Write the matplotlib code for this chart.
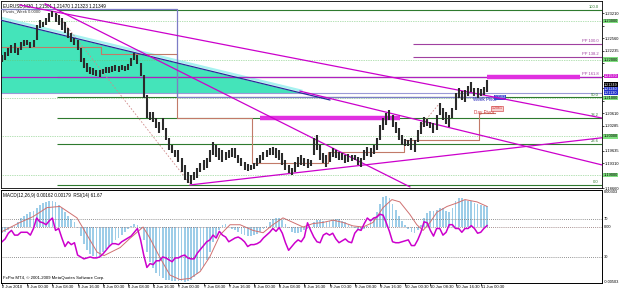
import numpy as np
import matplotlib
matplotlib.use('Agg')
import matplotlib.pyplot as plt
from matplotlib.transforms import blended_transform_factory

plt.rcParams['font.family'] = ['Liberation Sans', 'DejaVu Sans']

# hourly bars (2 Jun 16:30 .. 11 Jun 02:30)
high = [1.2212, 1.2220, 1.2230, 1.2238, 1.2243, 1.2230, 1.2246, 1.2251, 1.2251, 1.2246,
        1.2251, 1.2290, 1.2303, 1.2298, 1.2308, 1.2321, 1.2326, 1.2321, 1.2316, 1.2308,
        1.2298, 1.2282, 1.2269, 1.2256, 1.2251, 1.2230, 1.2204, 1.2191, 1.2181, 1.2178,
        1.2173, 1.2173, 1.2176, 1.2181, 1.2181, 1.2183, 1.2186, 1.2183, 1.2186, 1.2183,
        1.2188, 1.2204, 1.2217, 1.2212, 1.2191, 1.2160, 1.2108, 1.2064, 1.2064, 1.2048,
        1.2038, 1.2048, 1.2022, 1.1996, 1.1978, 1.1965, 1.1965, 1.1944, 1.1926, 1.1908,
        1.1900, 1.1908, 1.1918, 1.1931, 1.1939, 1.1944, 1.1965, 1.1986, 1.1978, 1.1970,
        1.1965, 1.1960, 1.1965, 1.1970, 1.1970, 1.1952, 1.1944, 1.1934, 1.1928, 1.1926,
        1.1931, 1.1944, 1.1952, 1.1960, 1.1965, 1.1970, 1.1973, 1.1970, 1.1965, 1.1957,
        1.1939, 1.1926, 1.1918, 1.1934, 1.1947, 1.1952, 1.1944, 1.1942, 1.1939, 1.1996,
        1.2004, 1.1978, 1.1957, 1.1952, 1.1960, 1.1970, 1.1965, 1.1960, 1.1957, 1.1952,
        1.1955, 1.1952, 1.1952, 1.1947, 1.1944, 1.1965, 1.1973, 1.1970, 1.1978, 1.1996,
        1.2030, 1.2048, 1.2061, 1.2069, 1.2056, 1.2038, 1.2022, 1.2004, 1.1994, 1.1991,
        1.1996, 1.1991, 1.2017, 1.2038, 1.2051, 1.2046, 1.2038, 1.2035, 1.2056, 1.2087,
        1.2074, 1.2064, 1.2056, 1.2074, 1.2113, 1.2126, 1.2118, 1.2121, 1.2131, 1.2142,
        1.2126, 1.2126, 1.2124, 1.2129, 1.2147]
low = [1.2194, 1.2199, 1.2209, 1.2217, 1.2217, 1.2212, 1.2225, 1.2235, 1.2238, 1.2230,
       1.2233, 1.2251, 1.2282, 1.2285, 1.2290, 1.2298, 1.2311, 1.2298, 1.2290, 1.2277,
       1.2269, 1.2256, 1.2246, 1.2238, 1.2225, 1.2194, 1.2178, 1.2168, 1.2163, 1.2160,
       1.2157, 1.2155, 1.2163, 1.2165, 1.2165, 1.2168, 1.2171, 1.2168, 1.2173, 1.2171,
       1.2173, 1.2183, 1.2199, 1.2188, 1.2157, 1.2100, 1.2048, 1.2043, 1.2038, 1.2022,
       1.2009, 1.2017, 1.1991, 1.1965, 1.1957, 1.1947, 1.1934, 1.1908, 1.1887, 1.1879,
       1.1877, 1.1887, 1.1892, 1.1908, 1.1913, 1.1918, 1.1934, 1.1952, 1.1947, 1.1939,
       1.1934, 1.1939, 1.1944, 1.1947, 1.1944, 1.1931, 1.1923, 1.1913, 1.1910, 1.1913,
       1.1916, 1.1923, 1.1931, 1.1939, 1.1947, 1.1952, 1.1952, 1.1944, 1.1939, 1.1926,
       1.1913, 1.1905, 1.1900, 1.1908, 1.1921, 1.1926, 1.1923, 1.1918, 1.1923, 1.1952,
       1.1965, 1.1939, 1.1931, 1.1921, 1.1934, 1.1947, 1.1944, 1.1939, 1.1939, 1.1931,
       1.1934, 1.1936, 1.1939, 1.1926, 1.1921, 1.1939, 1.1949, 1.1947, 1.1955, 1.1965,
       1.1991, 1.2017, 1.2030, 1.2043, 1.2025, 1.2009, 1.1991, 1.1978, 1.1975, 1.1975,
       1.1965, 1.1960, 1.1986, 1.2007, 1.2025, 1.2027, 1.2022, 1.2009, 1.2017, 1.2056,
       1.2043, 1.2033, 1.2025, 1.2048, 1.2069, 1.2100, 1.2095, 1.2090, 1.2105, 1.2116,
       1.2105, 1.2100, 1.2105, 1.2108, 1.2116]

macd = [-0.0005, -0.0004, -0.0003, -0.0001, 0.0001, 0.0004, 0.0008, 0.0010, 0.0011, 0.0013,
        0.0014, 0.0017, 0.0019, 0.0021, 0.0022, 0.0023, 0.0023, 0.0022, 0.0019, 0.0017,
        0.0013, 0.0010, 0.0007, 0.0004, -0.0001, -0.0008, -0.0015, -0.0020, -0.0024, -0.0025,
        -0.0026, -0.0025, -0.0022, -0.0019, -0.0017, -0.0014, -0.0011, -0.0010, -0.0007, -0.0004,
        -0.0002, 0.0001, 0.0003, 0.0002, -0.0002, -0.0011, -0.0022, -0.0031, -0.0036, -0.0040,
        -0.0043, -0.0045, -0.0046, -0.0046, -0.0047, -0.0047, -0.0047, -0.0047, -0.0048, -0.0047,
        -0.0046, -0.0044, -0.0041, -0.0038, -0.0034, -0.0029, -0.0022, -0.0013, -0.0008, -0.0003,
        0.0002, 0.0003, 0.0000, -0.0002, -0.0003, -0.0004, -0.0006, -0.0007, -0.0008, -0.0008,
        -0.0007, -0.0006, -0.0004, -0.0002, 0.0001, 0.0004, 0.0007, 0.0008, 0.0008, 0.0006,
        0.0003, -0.0001, -0.0004, -0.0005, -0.0005, -0.0004, -0.0003, -0.0002, 0.0000, 0.0004,
        0.0006, 0.0006, 0.0005, 0.0004, 0.0005, 0.0006, 0.0007, 0.0007, 0.0005, 0.0004,
        0.0002, 0.0001, -0.0001, -0.0003, -0.0003, -0.0002, 0.0001, 0.0004, 0.0008, 0.0013,
        0.0020, 0.0026, 0.0027, 0.0025, 0.0020, 0.0015, 0.0010, 0.0005, 0.0002, -0.0002,
        -0.0004, -0.0005, -0.0003, 0.0002, 0.0008, 0.0012, 0.0014, 0.0014, 0.0015, 0.0017,
        0.0017, 0.0014, 0.0013, 0.0017, 0.0023, 0.0025, 0.0025, 0.0024, 0.0023, 0.0023,
        0.0021, 0.0020, 0.0019, 0.0018, 0.0018]

signal_h = [0, 5.7, 9.8, 14.3, 18.4, 23.8, 27, 30.2, 32.4, 37.5, 40.6, 44.8, 47, 50.2,
            53.3, 56.5, 59.7, 62.9, 66, 69.2, 72.4, 75.6, 79.7, 82.9, 86, 89.2, 92.4,
            95.6, 98.7, 101.9, 105.1, 108.3, 111.4, 114.6, 117.8, 121, 123.8, 126.3,
            129.5, 131.7, 133.7, 135.9, 138.1, 141.3, 144.4, 147, 150.8, 154]
signal = [-0.0004, 0.0004, 0.0009, 0.0017, 0.0018, 0.0008, -0.0007, -0.0022, -0.0025,
          -0.0018, -0.0010, 0.0000, -0.0010, -0.0027, -0.0042, -0.0046, -0.0045, -0.0039,
          -0.0026, -0.0007, 0.0002, 0.0002, -0.0003, -0.0005, 0.0002, 0.0008, 0.0004,
          0.0000, 0.0003, 0.0004, 0.0006, 0.0004, 0.0001, 0.0000, 0.0004, 0.0017, 0.0024,
          0.0022, 0.0011, 0.0002, -0.0003, 0.0004, 0.0013, 0.0018, 0.0021, 0.0024, 0.0022,
          0.0018]

rsi = [46, 49, 55, 58, 53, 53, 56, 56, 56, 53, 60, 71, 67, 66, 64, 68, 71, 58, 60, 50,
       41, 46, 43, 45, 32, 30, 28, 29, 30, 29, 29, 30, 33, 37, 41, 44, 44, 43, 46, 48,
       50, 52, 56, 60, 48, 32, 19, 23, 22, 26, 26, 30, 29, 27, 25, 29, 29, 31, 32, 29,
       28, 28, 34, 38, 42, 46, 48, 53, 50, 57, 53, 51, 46, 48, 50, 51, 49, 46, 41, 43,
       43, 44, 46, 50, 53, 56, 60, 57, 61, 55, 45, 37, 41, 45, 48, 46, 51, 66, 58, 51,
       46, 45, 53, 55, 53, 55, 49, 45, 47, 49, 46, 45, 55, 59, 58, 65, 71, 68, 71, 72,
       75, 74, 66, 57, 46, 45, 45, 46, 47, 48, 42, 42, 48, 56, 67, 66, 58, 52, 60, 60,
       53, 56, 64, 64, 60, 60, 56, 60, 60, 63, 60, 55, 56, 60, 63]

time_labels = ['2 Jun 2010', '3 Jun 00:30', '3 Jun 08:30', '3 Jun 16:30', '4 Jun 00:30',
               '4 Jun 08:30', '4 Jun 16:30', '7 Jun 00:30', '7 Jun 08:30', '7 Jun 16:30',
               '8 Jun 00:30', '8 Jun 08:30', '8 Jun 16:30', '9 Jun 00:30', '9 Jun 08:30',
               '9 Jun 16:30', '10 Jun 00:30', '10 Jun 08:30', '10 Jun 16:30', '11 Jun 00:30']
price_ticks = [1.18660, 1.18985, 1.19310, 1.19635, 1.19960, 1.20285, 1.20610, 1.20935,
               1.21260, 1.21585, 1.21910, 1.22235, 1.22560, 1.22885, 1.23210]

# objects on the chart: (hour, price) end points
line_a = ([5.7, 190.5], [1.2342, 1.2048])
line_b = ([13.7, 129.5], [1.2345, 1.1869])
line_c = ([59.7, 193.0], [1.1874, 1.1999])
line_d = ([94.6, 190.5], [1.2118, 1.1926])
navy_line = ([-0.6, 104.1], [1.2303, 1.2095])
fibo_trend = ([16.8, 59.7], [1.2326, 1.1877])
fibo_high, fibo_low = 1.2329, 1.1874
fibo_levels = [0.0, 23.6, 38.2, 50.0, 61.8, 100.0]
round_levels = [1.2300, 1.2200, 1.2100, 1.2000, 1.1900]
pp_levels = [1.2241, 1.2207, 1.2155]
pp_names = ['PP 100.0', 'PP 138.2', 'PP 161.8']
support_line = 1.2113
day_pivot_h = [-0.6, 31.5, 55.5, 79.5, 103.5, 127.5, 151.5, 156.5]
day_pivot = [1.2233, 1.2215, 1.2048, 1.1931, 1.1960, 1.1991, 1.2061, 1.2061]
week_pivot_h = [-0.6, 55.5, 158.0]
week_pivot = [1.2332, 1.2103, 1.2103]
zones = [(81.9, 126.3, 1.2048), (154.0, 183.5, 1.2156)]
last_close = 1.21349

W, H = 625, 292
FS = 3.3
RFS = 2.9


def box(x0, y0, x1, y1):
    return [x0 / W, 1 - y1 / H, (x1 - x0) / W, (y1 - y0) / H]


fig = plt.figure(figsize=(6.25, 2.92), dpi=100)
ax = fig.add_axes(box(1, 1, 602, 188))
sub = fig.add_axes(box(1, 190, 602, 283), sharex=ax)
rsi_ax = sub.twinx()

hours = np.arange(len(high))
ax.set_xlim(-0.32, 190.5)
ax.set_ylim(1.18662, 1.23524)

# cyan channel area
fill_end = -0.6 + (navy_line[1][0] - support_line) / (navy_line[1][0] - navy_line[1][1]) * 104.7
xs = np.linspace(-0.6, fill_end, 60)
top = np.interp(xs, navy_line[0], navy_line[1])
ax.fill_between(xs, support_line, top, color='#44E4BA', lw=0, zorder=1)
ax.plot(xs, top + 0.0006, color='#A6F2F0', lw=1.8, zorder=1.5)
ax.plot(*navy_line, color='#2A2A9A', lw=0.9, zorder=3)

for lv in round_levels:
    ax.axhline(lv, color='#6CC46C', lw=0.5, ls=(0, (1, 1.5)), zorder=1.2)

fib_prices = [fibo_low + (fibo_high - fibo_low) * f / 100 for f in fibo_levels]
ax.hlines(fib_prices, 17.5, 190.5, color='#2E7A2E', lw=0.8, zorder=2)
for f, p in zip(fibo_levels, fib_prices):
    if f != 61.8:
        ax.text(189.5, p + 0.0002, f'{f:.1f}', fontsize=3.0, color='#2E7A2E',
                ha='right', va='bottom')

ax.axhline(support_line, color='#9A9AD6', lw=0.8, zorder=2)
ax.hlines(pp_levels[:2], 130.5, 190.5, color='#A040A0', lw=0.8, zorder=2)
ax.axhline(pp_levels[2], color='#B020C0', lw=0.9, zorder=2)
for name, p in zip(pp_names, pp_levels):
    ax.text(189.5, p + 0.0002, name, fontsize=3.0, color='#A040A0', ha='right', va='bottom')

ax.step(day_pivot_h, day_pivot, where='post', color='#C27A68', lw=0.8, zorder=2.5)
ax.step(week_pivot_h, week_pivot, where='post', color='#7C7CC6', lw=0.9, zorder=2.6)
ax.plot(*fibo_trend, color='#D08A8A', lw=0.6, ls=(0, (2, 2)), zorder=2.5)
ax.plot([132.7, 139.0], [1.2025, 1.2087], color='#D08A8A', lw=0.6, ls=(0, (2, 2)), zorder=2.5)

for x0, x1, p in zones:
    ax.hlines(p, x0, x1, color='#E030E0', lw=3.2, zorder=3)
for ln in (line_a, line_b, line_c, line_d):
    ax.plot(*ln, color='#CC00CC', lw=0.9, zorder=3.2)

ax.vlines(hours, low, high, color='#2B2B2B', lw=1.5, zorder=4)

ax.text(149.5, 1.2097, 'Week Pivot', fontsize=FS, color='#2222BB', ha='left', va='center')
ax.text(156.5, 1.2102, '1.2103', fontsize=2.6, color='white', ha='left', va='center',
        bbox=dict(boxstyle='square,pad=0.15', fc='#3A4ACD', ec='none'))
ax.text(150.0, 1.2063, 'Day Pivot', fontsize=FS, color='#D03030', ha='left', va='center')
ax.text(155.5, 1.2073, '1.2061', fontsize=2.6, color='#D03030', ha='left', va='center',
        bbox=dict(boxstyle='square,pad=0.15', fc='#F6D0D0', ec='#D03030', lw=0.4))

ax.text(0.004, 0.99, 'EURUSD,M30  1.21501 1.21470 1.21323 1.21349', transform=ax.transAxes,
        fontsize=FS, va='top', ha='left')
ax.text(0.004, 0.955, 'Pivots_Week 0.0000', transform=ax.transAxes,
        fontsize=3.0, va='top', ha='left', color='#333333')

# right price scale: plain ticks, coloured boxes for objects and the last price
specials = [(1.21570, '#D020D0', 'white'), (last_close, 'black', 'white'),
            (1.21240, '#2233CC', 'white'), (1.21130, '#2233CC', 'white')]
special_prices = [p for p, _, _ in specials] + round_levels
plain_ticks = [t for t in price_ticks if min(abs(t - s) for s in special_prices) > 0.0013]
ax.yaxis.tick_right()
ax.set_yticks(price_ticks)
ax.set_yticklabels([f'{v:.5f}' if v in plain_ticks else '' for v in price_ticks])
ax.tick_params(axis='y', labelsize=RFS, length=1.5, width=0.5, pad=0.8)
ax.tick_params(axis='x', bottom=False, labelbottom=False)
yt = ax.get_yaxis_transform()
for p, bg, fg in specials:
    ax.text(1.003, p, f'{p:.5f}', transform=yt, fontsize=2.7, color=fg, va='center',
            ha='left', clip_on=False, bbox=dict(boxstyle='square,pad=0.08', fc=bg, ec='none'))
for p in round_levels:
    ax.text(1.003, p, f'{p:.5f}', transform=yt, fontsize=RFS, color='black', va='center',
            ha='left', clip_on=False, bbox=dict(boxstyle='square,pad=0.08', fc='#7FE07F', ec='none'))

# indicator window: MACD histogram + signal, RSI on its own scale
sub.set_ylim(-0.0049, 0.00324)
rsi_ax.set_ylim(2.6, 100.5)
sub.bar(hours, macd, width=0.55, color='#9DCDE8', lw=0, zorder=1)
sub.plot(signal_h, signal, color='#D07070', lw=0.7, zorder=2)
sub.axhline(0, color='#8A6A6A', lw=0.6, ls=(0, (1, 1.5)), zorder=1.5)
rsi_ax.axhline(70, color='#707070', lw=0.6, ls=(0, (1, 1.5)))
rsi_ax.axhline(30, color='#707070', lw=0.6, ls=(0, (1, 1.5)))
rsi_ax.plot(hours, rsi, color='#CC00CC', lw=1.1)

sub.text(0.004, 0.97, 'MACD(12,26,9) 0.00162 0.00179  RSI(14) 61.67', transform=sub.transAxes,
         fontsize=FS, va='top', ha='left')
sub.text(0.004, 0.03, 'FxPro MT4, \u00a9 2001-2009 MetaQuotes Software Corp.',
         transform=sub.transAxes, fontsize=3.1, va='bottom', ha='left')

sub.set_yticks([])
rsi_ax.set_yticks([])
st = sub.get_yaxis_transform()
rt = rsi_ax.get_yaxis_transform()
sub.text(1.003, 0.00303, '0.00303', transform=st, fontsize=RFS, va='center', ha='left')
sub.text(1.003, 0.0, '0.00', transform=st, fontsize=RFS, va='center', ha='left')
sub.text(1.003, -0.0048, '-0.00503', transform=st, fontsize=RFS, va='center', ha='left')
rsi_ax.text(1.003, 70, '70', transform=rt, fontsize=RFS, va='center', ha='left')
rsi_ax.text(1.003, 30, '30', transform=rt, fontsize=RFS, va='center', ha='left')

tick_h = list(range(0, 8 * len(time_labels), 8))
sub.set_xticks(tick_h)
sub.tick_params(axis='x', length=2, width=0.5, labelbottom=False)
xt = blended_transform_factory(sub.transData, sub.transAxes)
for h, lab in zip(tick_h, time_labels):
    sub.text(h, -0.045, lab, transform=xt, fontsize=3.0, va='center', ha='left')

for a in (ax, sub, rsi_ax):
    for s in a.spines.values():
        s.set_linewidth(0.6)
        s.set_color('black')

fig.savefig('out.png', dpi=100, facecolor='white')
